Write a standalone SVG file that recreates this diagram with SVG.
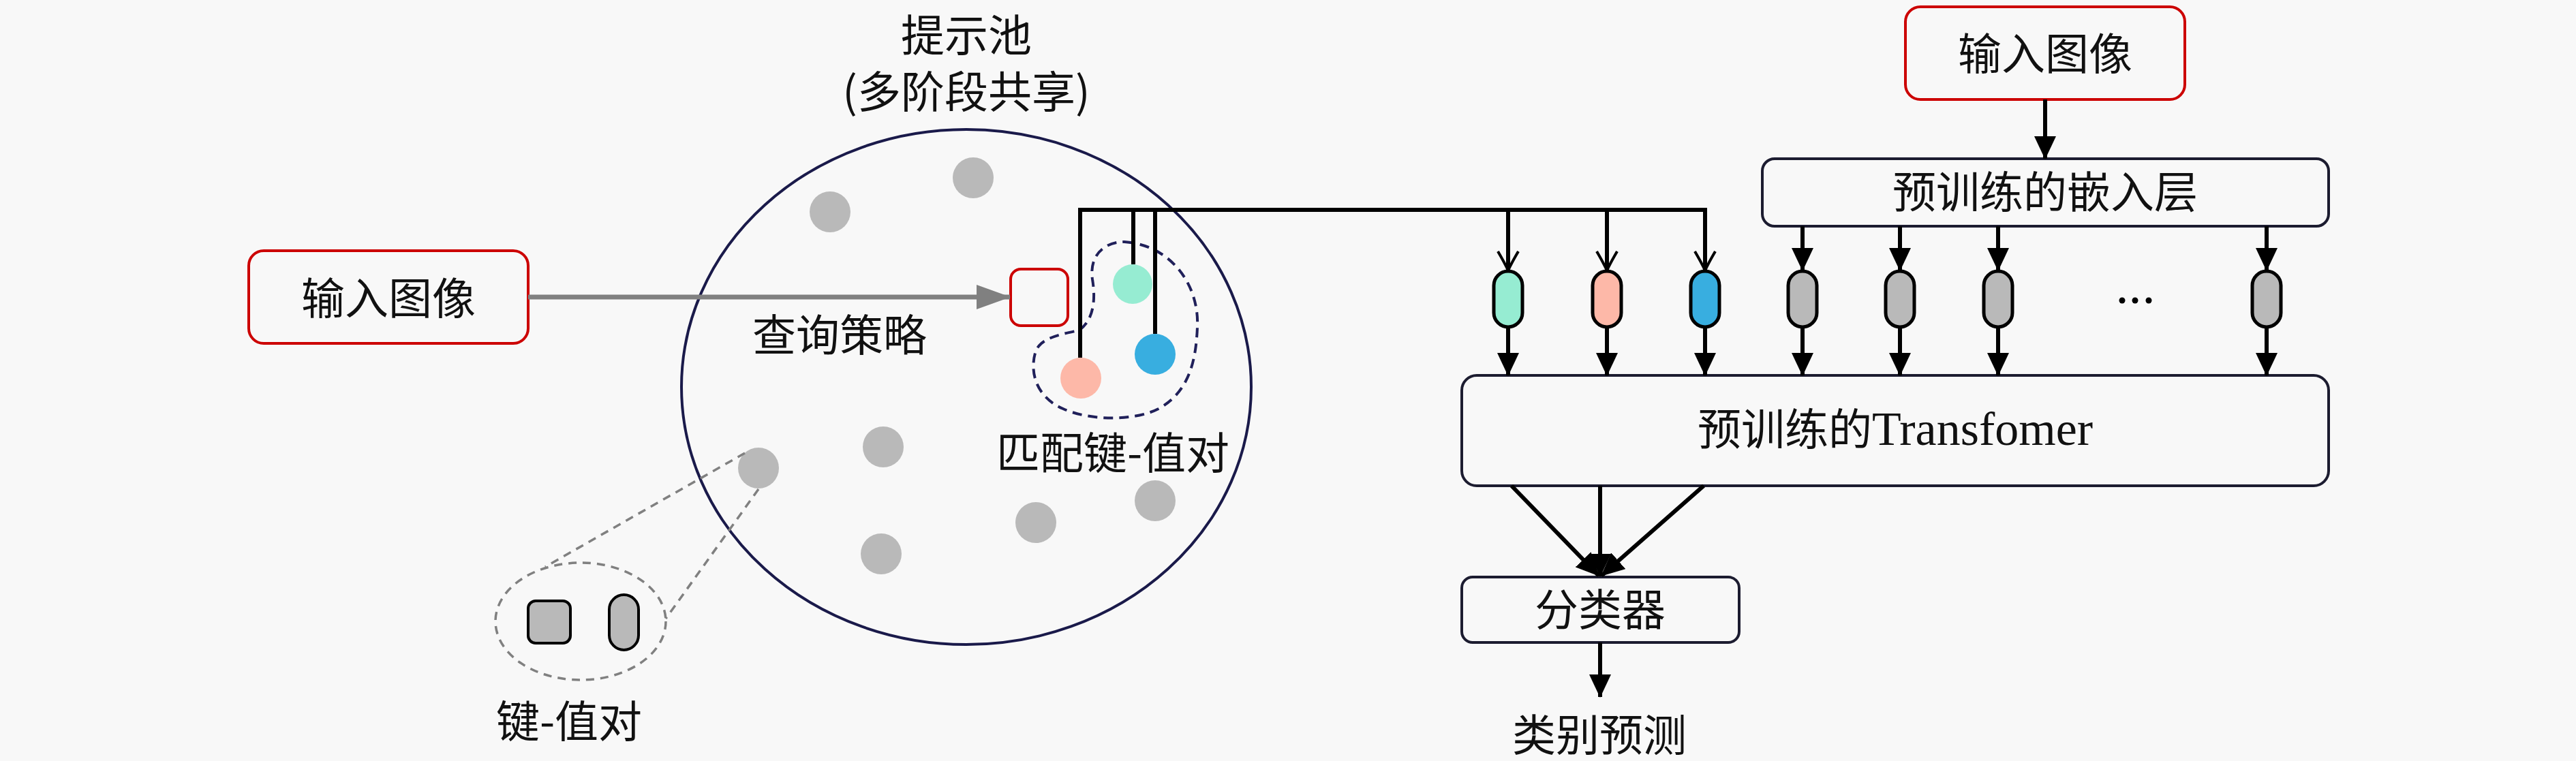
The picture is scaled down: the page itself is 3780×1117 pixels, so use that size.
<svg xmlns="http://www.w3.org/2000/svg" width="3780" height="1117" viewBox="0 0 3780 1117">
<style>
.cjk{font-family:"Noto Sans CJK SC","Liberation Sans",sans-serif;font-size:64px;fill:#111;text-anchor:middle}
.box{fill:#f8f8f8;stroke:#1c1c30;stroke-width:4}
.red{fill:#f8f8f8;stroke:#cc0000;stroke-width:4}
.dot{fill:#b9b9b9}
.pill{stroke:#000;stroke-width:5}
.conn{stroke:#000;stroke-width:6;fill:none}
.arr{stroke:#000;stroke-width:6;fill:none;marker-end:url(#tri)}
.open{stroke:#000;stroke-width:6;fill:none;marker-end:url(#to)}
</style>
<defs>
<marker id="tri" markerUnits="userSpaceOnUse" viewBox="0 0 34 32" markerWidth="34" markerHeight="32" refX="33" refY="16" orient="auto">
<path d="M0,0 L34,16 L0,32 Z" fill="#000"/>
</marker>
<marker id="to" markerUnits="userSpaceOnUse" viewBox="0 0 32 34" markerWidth="32" markerHeight="34" refX="29" refY="17" orient="auto">
<path d="M1,2 Q18,12 29,17 Q18,22 1,32" fill="none" stroke="#000" stroke-width="4"/>
</marker>
<marker id="gtri" markerUnits="userSpaceOnUse" viewBox="0 0 50 36" markerWidth="50" markerHeight="36" refX="49" refY="18" orient="auto">
<path d="M0,0 L50,18 L0,36 Z" fill="#808080"/>
</marker>
</defs>
<rect x="0" y="0" width="3780" height="1117" fill="#f8f8f8"/>

<g id="pool">
<ellipse cx="1418" cy="568" rx="418" ry="378" fill="none" stroke="#1a1a4a" stroke-width="4"/>
<text class="cjk" x="1418" y="75">提示池</text>
<text class="cjk" x="1418" y="158">(多阶段共享)</text>
<circle class="dot" cx="1218" cy="311" r="30"/>
<circle class="dot" cx="1428" cy="261" r="30"/>
<circle class="dot" cx="1296" cy="656" r="30"/>
<circle class="dot" cx="1113" cy="687" r="30"/>
<circle class="dot" cx="1293" cy="813" r="30"/>
<circle class="dot" cx="1520" cy="767" r="30"/>
<circle class="dot" cx="1695" cy="735" r="30"/>
<text class="cjk" x="1232" y="515">查询策略</text>
</g>

<g id="matched">
<path d="M1650,355 C1720,360 1760,420 1757,480 C1755,530 1745,575 1700,600 C1665,618 1600,618 1560,600 C1520,583 1510,545 1520,515 C1528,495 1560,490 1583,485 C1605,470 1608,440 1603,410 C1598,375 1620,355 1650,355 Z" fill="none" stroke="#20205a" stroke-width="4" stroke-dasharray="14 9"/>
<circle cx="1662" cy="417" r="29" fill="#96ecd2"/>
<circle cx="1695" cy="520" r="30" fill="#38aee0"/>
<circle cx="1586" cy="555" r="30" fill="#fdb8a8"/>
<text class="cjk" x="1633" y="688">匹配键-值对</text>
</g>

<g id="query">
<rect class="red" x="1483" y="395" width="84" height="83" rx="15"/>
</g>

<g id="input-left">
<rect class="red" x="365" y="368" width="410" height="136" rx="22"/>
<text class="cjk" x="570" y="461">输入图像</text>
</g>

<g id="kv">
<ellipse cx="852" cy="912" rx="125" ry="86" fill="none" stroke="#808080" stroke-width="3.5" stroke-dasharray="12 9"/>
<line x1="1093" y1="665" x2="800" y2="832" stroke="#808080" stroke-width="3.5" stroke-dasharray="12 9"/>
<line x1="1113" y1="718" x2="977" y2="908" stroke="#808080" stroke-width="3.5" stroke-dasharray="12 9"/>
<rect x="775" y="882" width="62" height="62" rx="11" fill="#b9b9b9" stroke="#000" stroke-width="4"/>
<rect x="894" y="873" width="43" height="81" rx="21.5" fill="#b9b9b9" stroke="#000" stroke-width="4"/>
<text class="cjk" x="835" y="1082">键-值对</text>
</g>

<g id="input-right">
<rect class="red" x="2796" y="10" width="410" height="136" rx="22"/>
<text class="cjk" x="3001" y="102">输入图像</text>
</g>

<g id="embed">
<rect class="box" x="2586" y="233" width="831" height="99" rx="18"/>
<text class="cjk" x="3001" y="305">预训练的嵌入层</text>
</g>

<g id="tokens">
<rect class="pill" x="2192" y="398" width="42" height="82" rx="21" fill="#96ecd2"/>
<rect class="pill" x="2337" y="398" width="42" height="82" rx="21" fill="#fdb8a8"/>
<rect class="pill" x="2481" y="398" width="42" height="82" rx="21" fill="#38aee0"/>
<rect class="pill" x="2624" y="398" width="42" height="82" rx="21" fill="#b9b9b9"/>
<rect class="pill" x="2767" y="398" width="42" height="82" rx="21" fill="#b9b9b9"/>
<rect class="pill" x="2911" y="398" width="42" height="82" rx="21" fill="#b9b9b9"/>
<rect class="pill" x="3305" y="398" width="42" height="82" rx="21" fill="#b9b9b9"/>
<circle cx="3114" cy="441" r="4.5" fill="#000"/>
<circle cx="3133" cy="441" r="4.5" fill="#000"/>
<circle cx="3153" cy="441" r="4.5" fill="#000"/>
</g>

<g id="transformer">
<rect class="box" x="2145" y="551" width="1272" height="162" rx="22"/>
<text class="cjk" x="2781" y="653">预训练的<tspan font-family="'Liberation Serif',serif" font-size="70">Transfomer</tspan></text>
</g>

<g id="classifier">
<rect class="box" x="2145" y="847" width="407" height="96" rx="16"/>
<text class="cjk" x="2348" y="918">分类器</text>
</g>

<g id="output">
<text class="cjk" x="2347" y="1102">类别预测</text>
</g>

<g id="connectors">
<line x1="775" y1="436" x2="1482" y2="436" stroke="#808080" stroke-width="7" marker-end="url(#gtri)"/>
<path class="conn" d="M1585,525 V308 H2502" stroke-width="7"/>
<line class="conn" x1="1663" y1="308" x2="1663" y2="388"/>
<line class="conn" x1="1695" y1="308" x2="1695" y2="490"/>
<line class="open" x1="2213" y1="308" x2="2213" y2="397"/>
<line class="open" x1="2358" y1="308" x2="2358" y2="397"/>
<line class="open" x1="2502" y1="305" x2="2502" y2="397"/>
<line class="arr" x1="3001" y1="146" x2="3001" y2="233"/>
<line class="arr" x1="2645" y1="332" x2="2645" y2="397"/>
<line class="arr" x1="2788" y1="332" x2="2788" y2="397"/>
<line class="arr" x1="2932" y1="332" x2="2932" y2="397"/>
<line class="arr" x1="3326" y1="332" x2="3326" y2="397"/>
<line class="arr" x1="2213" y1="480" x2="2213" y2="551"/>
<line class="arr" x1="2358" y1="480" x2="2358" y2="551"/>
<line class="arr" x1="2502" y1="480" x2="2502" y2="551"/>
<line class="arr" x1="2645" y1="480" x2="2645" y2="551"/>
<line class="arr" x1="2788" y1="480" x2="2788" y2="551"/>
<line class="arr" x1="2932" y1="480" x2="2932" y2="551"/>
<line class="arr" x1="3326" y1="480" x2="3326" y2="551"/>
<line class="arr" x1="2218" y1="713" x2="2346" y2="845" stroke-width="8"/>
<line class="arr" x1="2348" y1="713" x2="2348" y2="846"/>
<line class="arr" x1="2500" y1="713" x2="2350" y2="845" stroke-width="8"/>
<line class="arr" x1="2348" y1="943" x2="2348" y2="1023"/>
</g>
</svg>
